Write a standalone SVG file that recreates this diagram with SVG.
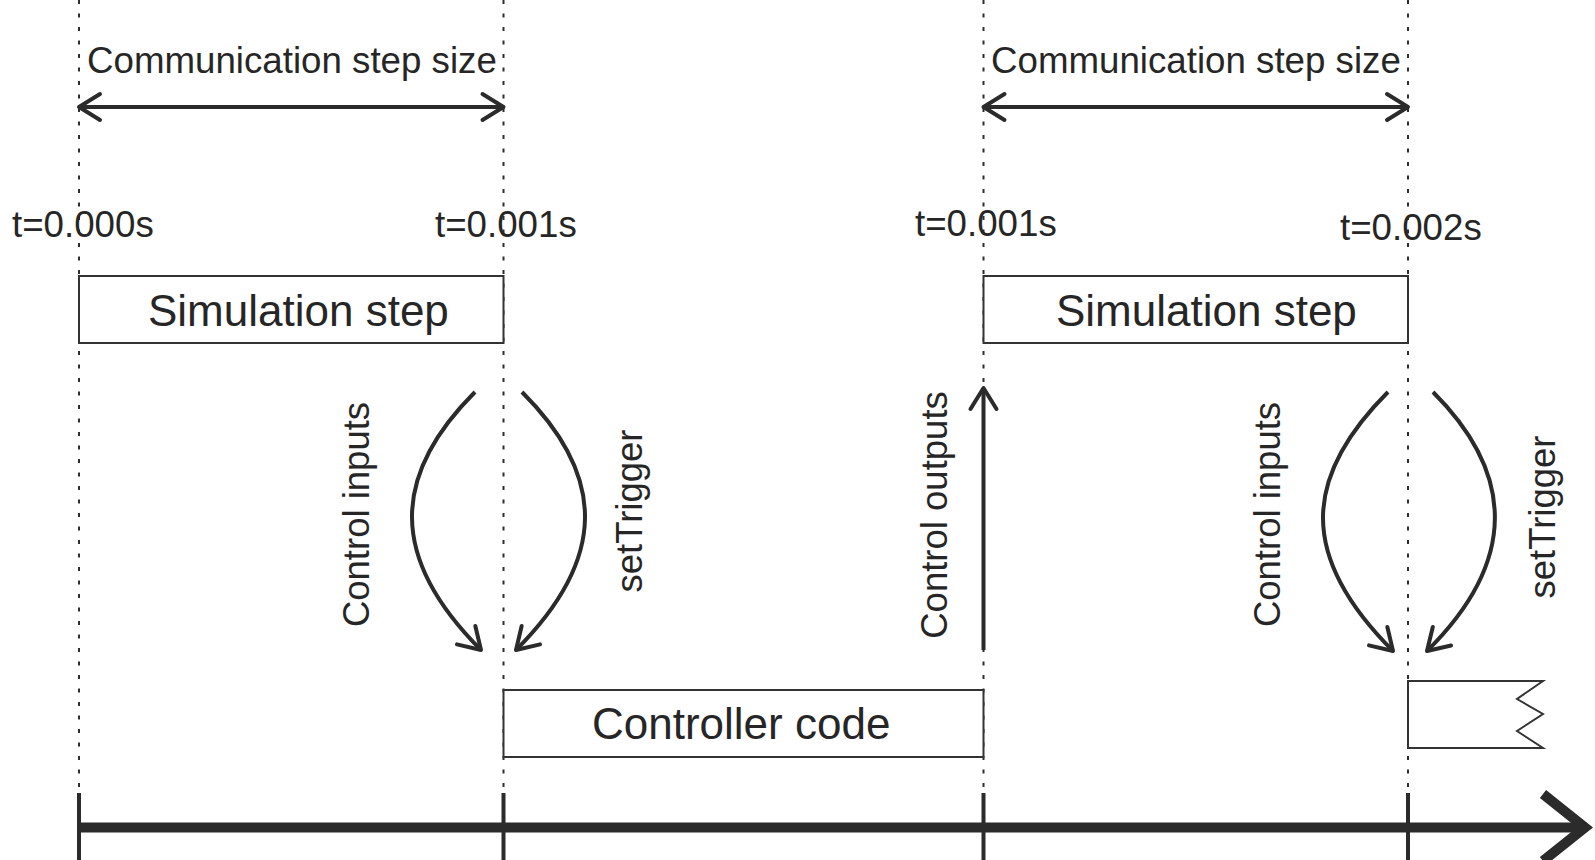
<svg xmlns="http://www.w3.org/2000/svg" width="1595" height="860" viewBox="0 0 1595 860">
  <style>
    .lbl { font-family: "Liberation Sans", Arial, sans-serif; fill: #262626; }
    .t { font-size: 36.7px; }
    .box-t { font-size: 44px; }
    .rot { font-size: 36.5px; text-anchor: middle; }
    .box { fill: #ffffff; stroke: #333333; stroke-width: 2; }
    .guide { stroke: #2e2e2e; stroke-width: 2; stroke-dasharray: 4 9.5; fill: none; }
    .flow { fill: none; stroke: #2b2b2b; stroke-width: 4; }
    .tick { stroke: #2b2b2b; stroke-width: 4; }
  </style>
  <defs>
    <marker id="chev" markerUnits="userSpaceOnUse" viewBox="-25 -17 29 34" markerWidth="29" markerHeight="34" refX="0" refY="0" orient="auto-start-reverse">
      <path d="M-21,-13 L0,0 L-21,13" fill="none" stroke="#2b2b2b" stroke-width="4" stroke-linecap="round" stroke-linejoin="round"/>
    </marker>
  </defs>

  <rect width="1595" height="860" fill="#ffffff"/>

  <!-- dotted time guides -->
  <g id="guides">
    <line class="guide" x1="79" y1="0" x2="79" y2="793"/>
    <line class="guide" x1="503.5" y1="0" x2="503.5" y2="793"/>
    <line class="guide" x1="983.5" y1="0" x2="983.5" y2="793"/>
    <line class="guide" x1="1408" y1="0" x2="1408" y2="793"/>
  </g>

  <!-- step size spans -->
  <g id="span-1">
    <text class="lbl t" x="87" y="73">Communication step size</text>
    <path class="flow" d="M79,107 L503.5,107" marker-start="url(#chev)" marker-end="url(#chev)"/>
  </g>
  <g id="span-2">
    <text class="lbl t" x="991" y="73">Communication step size</text>
    <path class="flow" d="M983.5,107 L1408,107" marker-start="url(#chev)" marker-end="url(#chev)"/>
  </g>

  <!-- time stamps -->
  <g id="time-labels">
    <text class="lbl t" x="12" y="237">t=0.000s</text>
    <text class="lbl t" x="435" y="237">t=0.001s</text>
    <text class="lbl t" x="915" y="236">t=0.001s</text>
    <text class="lbl t" x="1340" y="240">t=0.002s</text>
  </g>

  <!-- blocks -->
  <g id="sim-step-1">
    <rect class="box" x="79" y="276" width="424.5" height="67"/>
    <text class="lbl box-t" x="148" y="326">Simulation step</text>
  </g>
  <g id="sim-step-2">
    <rect class="box" x="983.5" y="276" width="424.5" height="67"/>
    <text class="lbl box-t" x="1056" y="326">Simulation step</text>
  </g>
  <g id="controller-code">
    <rect class="box" x="503.5" y="690" width="480" height="67"/>
    <text class="lbl box-t" x="592" y="739">Controller code</text>
  </g>
  <g id="next-controller">
    <path class="box" d="M1408,681 L1543,681 L1517,699 L1543,714 L1517,731 L1543,748 L1408,748 Z"/>
  </g>

  <!-- exchange labels -->
  <g id="exchange-labels">
    <text class="lbl rot" transform="translate(369,514.5) rotate(-90)">Control inputs</text>
    <text class="lbl rot" transform="translate(642,511) rotate(-90)">setTrigger</text>
    <text class="lbl rot" transform="translate(947,515) rotate(-90)">Control outputs</text>
    <text class="lbl rot" transform="translate(1280,514.5) rotate(-90)">Control inputs</text>
    <text class="lbl rot" transform="translate(1555,517) rotate(-90)">setTrigger</text>
  </g>

  <!-- data and trigger flows -->
  <g id="connectors">
    <path class="flow" d="M475,392 C391,476 389,558 481,650" marker-end="url(#chev)"/>
    <path class="flow" d="M522,392 C606,476 608,558 516,650" marker-end="url(#chev)"/>
    <path class="flow" d="M983.5,650 L983.5,388" marker-end="url(#chev)"/>
    <path class="flow" d="M1388,392 C1302,478 1299,557 1393,651" marker-end="url(#chev)"/>
    <path class="flow" d="M1433,392 C1515,474 1518,561 1427,651" marker-end="url(#chev)"/>
  </g>

  <!-- time axis -->
  <g id="time-axis">
    <line class="tick" x1="79" y1="793" x2="79" y2="860"/>
    <line class="tick" x1="503.5" y1="793" x2="503.5" y2="860"/>
    <line class="tick" x1="983.5" y1="793" x2="983.5" y2="860"/>
    <line class="tick" x1="1408" y1="793" x2="1408" y2="860"/>
    <line x1="77" y1="827.5" x2="1584" y2="827.5" stroke="#2b2b2b" stroke-width="10"/>
    <polyline points="1543,794 1585,827.5 1543,861" fill="none" stroke="#2b2b2b" stroke-width="10" stroke-linejoin="miter"/>
  </g>
</svg>
